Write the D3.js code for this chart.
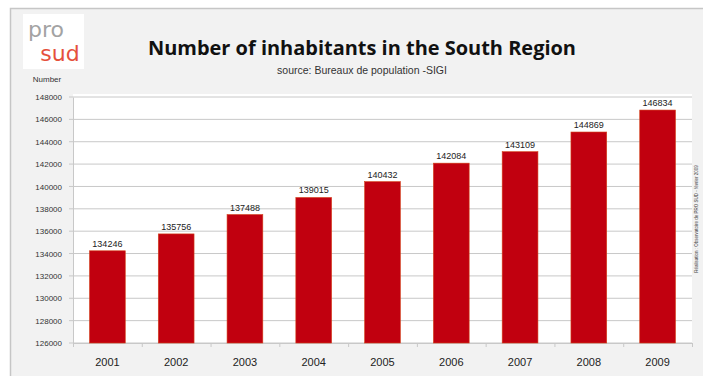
<!DOCTYPE html>
<html><head><meta charset="utf-8">
<script src="https://cdn.jsdelivr.net/npm/d3@7"></script>
<style>html,body{margin:0;padding:0;background:#fff;}svg{display:block;}</style>
</head><body>
<svg id="c" width="703" height="376"></svg>
<script>
const years = ["2001","2002","2003","2004","2005","2006","2007","2008","2009"];
const inhabitants = [134246,135756,137488,139015,140432,142084,143109,144869,146834];
const yTicks = [126000,128000,130000,132000,134000,136000,138000,140000,142000,144000,146000,148000];

const svg = d3.select("#c");
// outer panel
svg.append("rect").attr("x",10.5).attr("y",8.5).attr("width",700).attr("height",380)
  .attr("fill","#f2f2f2").attr("stroke","#c6c6c6").attr("stroke-width",1.5);

const L=73, R=692, T=97, B=343;
svg.append("rect").attr("x",L).attr("y",T-3).attr("width",R-L).attr("height",B-T+3).attr("fill","#fff");

const x = d3.scaleBand().domain(years).range([L,R]).paddingInner(0.48).paddingOuter(0.24);
const y = d3.scaleLinear().domain([126000,148000]).range([B,T]);

// gridlines
svg.append("g").selectAll("line").data(yTicks).join("line")
  .attr("x1",L-4).attr("x2",R).attr("y1",d=>y(d)).attr("y2",d=>y(d))
  .attr("stroke","#c8c8c8").attr("stroke-width",1);

// y axis labels
const yAxis = d3.axisLeft(y).tickValues(yTicks).tickSize(0).tickPadding(11).tickFormat(d3.format("d"));
const gy = svg.append("g").attr("transform",`translate(${L},0)`).call(yAxis);
gy.select(".domain").attr("stroke","#c8c8c8");
gy.selectAll("text").attr("font-family","Liberation Sans, Arial, sans-serif").attr("font-size",8).attr("fill","#333");

// x axis
const xAxis = d3.axisBottom(d3.scaleLinear().domain([0,9]).range([L,R])).ticks(9).tickSize(4).tickFormat("");
const gx = svg.append("g").attr("transform",`translate(0,${B})`).call(xAxis);
gx.select(".domain").attr("stroke","#c8c8c8");
gx.selectAll("line").attr("stroke","#c8c8c8");
svg.append("g").selectAll("text").data(years).join("text")
  .attr("x",d=>x(d)+x.bandwidth()/2).attr("y",366).attr("text-anchor","middle")
  .attr("font-family","Liberation Sans Narrow, Liberation Sans, Arial, sans-serif").attr("font-size",11).attr("fill","#222")
  .text(d=>d);

// bars
svg.append("g").selectAll("rect").data(inhabitants).join("rect")
  .attr("x",(d,i)=>x(years[i])).attr("width",x.bandwidth())
  .attr("y",d=>y(d)).attr("height",d=>B-y(d))
  .attr("fill","#c1000f").attr("stroke","#d4401a").attr("stroke-width",0.6);

// value labels
svg.append("g").selectAll("text").data(inhabitants).join("text")
  .attr("x",(d,i)=>x(years[i])+x.bandwidth()/2).attr("y",d=>y(d)-4).attr("text-anchor","middle")
  .attr("font-family","Liberation Sans, Arial, sans-serif").attr("font-size",9).attr("fill","#222")
  .text(d=>d);

// title
svg.append("text").attr("x",362).attr("y",55).attr("text-anchor","middle")
  .attr("font-family","Open Sans, Liberation Sans, Arial, sans-serif").attr("font-weight","bold")
  .attr("font-size",19).attr("textLength",428).attr("lengthAdjust","spacingAndGlyphs").attr("fill","#111")
  .text("Number of inhabitants in the South Region");
svg.append("text").attr("x",362).attr("y",74).attr("text-anchor","middle")
  .attr("font-family","Liberation Sans, Arial, sans-serif").attr("font-size",10.5).attr("fill","#333")
  .text("source: Bureaux de population -SIGI");
svg.append("text").attr("x",47).attr("y",82).attr("text-anchor","middle")
  .attr("font-family","Liberation Sans, Arial, sans-serif").attr("font-size",8).attr("fill","#333")
  .text("Number");

// side credit
svg.append("text").attr("transform","translate(698,219) rotate(-90)").attr("text-anchor","middle")
  .attr("font-family","Liberation Sans, Arial, sans-serif").attr("font-size",4.5).attr("fill","#444")
  .text("Réalisation : Observatoire de PRO SUD - février 2009");

// logo
const lg = svg.append("g");
lg.append("rect").attr("x",23).attr("y",14).attr("width",61).attr("height",55).attr("fill","#fff");
lg.append("text").attr("x",46).attr("y",37)
  .attr("font-family","DejaVu Sans, sans-serif").attr("font-size",22).attr("fill","#a3a3a3")
  .attr("text-anchor","middle").text("pro");
lg.append("text").attr("x",60).attr("y",61)
  .attr("font-family","DejaVu Sans, sans-serif").attr("font-size",22).attr("fill","#e5503c")
  .attr("text-anchor","middle").text("sud");
</script>
</body></html>
